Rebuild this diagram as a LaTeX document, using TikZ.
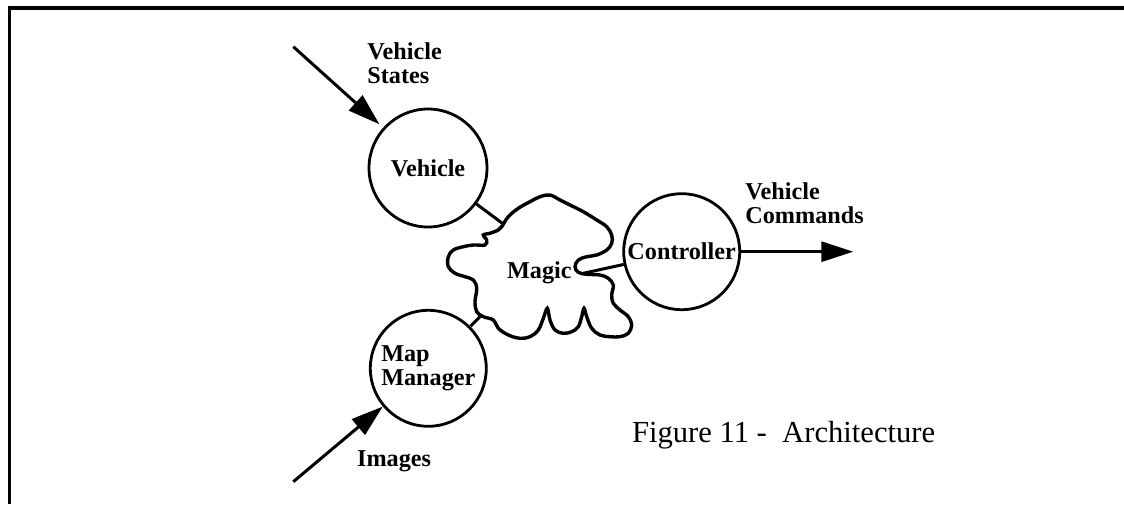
\documentclass[tikz,border=0pt]{standalone}
\usepackage{fontspec}
\setmainfont{Liberation Serif}
\usetikzlibrary{arrows.meta}
\tikzset{
  proc/.style={draw,circle,line width=1.4pt,inner sep=0pt,font=\fontsize{12.1}{12}\selectfont\bfseries},
  lbl/.style={inner sep=0pt,align=left,font=\fontsize{12.1}{12}\selectfont\bfseries},
  flow/.style={line width=1.5pt,-{Triangle[length=16pt,width=10pt]}},
  link/.style={line width=1.5pt}
}
\begin{document}
\begin{tikzpicture}[x=0.5pt,y=-0.5pt]
  \useasboundingbox (0,0) rectangle (1124,504);
  \draw[line width=1.8pt] (1124,8) -- (9.3,8) -- (9.3,504);
  % circles
  \node[proc,minimum size=59pt] (veh) at (428,168) {Vehicle};
  \node[proc,minimum size=58pt] (ctl) at (681.7,251.7) {Controller};
  \node[proc,minimum size=58pt,align=left] (map) at (428.3,368.3) {Map\\Manager};
  % the cloud
  \draw[line width=1.7pt] plot[smooth cycle,tension=0.6] coordinates {
    (501.7,226.7) (508.3,216.7) (518.3,208.3) (530,201.7) (540,196.7) (550,195)
    (560,200) (570,205) (583.3,211.7) (596.7,220) (606.7,226.7) (611.7,235)
    (611.7,243.3) (606.7,250) (596.7,255) (586.7,256.7) (578.3,260) (575,266.7)
    (578.3,272.3) (586.7,274.3) (600,275) (608.3,278.3) (613.3,285) (611.7,295)
    (613.3,303.3) (620,310) (628.3,316.7) (631.7,325) (628.3,333.3) (620,336.7)
    (610,336.7) (600,335) (591.7,328.3) (586.7,316.7) (584,308.3) (581.7,316.7)
    (578.3,326.7) (571.7,331.7) (563.3,333.3) (555,330) (550,320) (547.3,308.3)
    (543.3,318.3) (538.3,330) (530,336.7) (520,338.3) (508.3,335) (498.3,328.3)
    (493.3,320) (483.3,316.7) (476.7,311.7) (475,301.7) (476.7,288.3) (473.3,280)
    (465,276.7) (455,273.3) (448.3,266.7) (448.3,256.7) (453.3,250) (463.3,246.7)
    (473.3,245) (485,245) (486.7,240) (483.3,235) (490,233.3) (498.3,230)};
  \node[lbl,anchor=base west] (magic) at (506.7,278.3) {Magic};
  \coordinate (mv) at (504,224.5);
  \coordinate (mc) at (583.3,273.3);
  \coordinate (mm) at (480,316.7);
  \draw[link] (veh) -- (mv);
  \draw[link] (ctl) -- (mc);
  \draw[link] (map) -- (mm);
  % inputs and output
  \coordinate (vsin) at (293.3,46.7);
  \coordinate (imin) at (293.3,481.7);
  \coordinate (cmdout) at (853.3,251.7);
  \draw[flow,shorten >=2.5pt] (vsin) -- (veh);
  \draw[flow] (imin) -- (map);
  \draw[flow] (ctl) -- (cmdout);
  \node[lbl,anchor=west] (vslbl) at (367,63.3) {Vehicle\\States};
  \node[lbl,anchor=west] (cmdlbl) at (745,203.3) {Vehicle\\Commands};
  \node[lbl,anchor=base west] (imlbl) at (356.7,466.7) {Images};
  \node[inner sep=0pt,anchor=base west,font=\fontsize{15.3}{18}\selectfont] (cap) at (631.7,442.7) {Figure 11 -~ Architecture};
\end{tikzpicture}
\end{document}
